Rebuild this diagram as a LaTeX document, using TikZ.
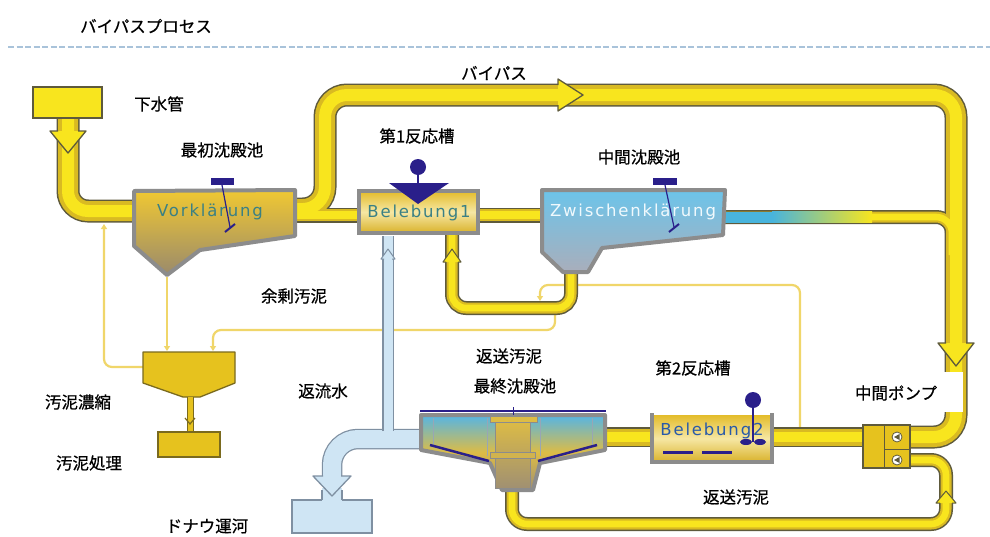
\documentclass[tikz,border=0pt]{standalone}
\usepackage{fontspec}
\newfontfamily\jp{Noto Sans CJK JP}[FakeBold=0.6]
\newfontfamily\tankfont{DejaVu Sans}[LetterSpace=11]
\usetikzlibrary{arrows.meta}

\definecolor{pipeedge}{HTML}{5E5A3C}
\definecolor{pipegold}{HTML}{D9BA22}
\definecolor{pipeyel}{HTML}{F8E51E}
\definecolor{tankgray}{HTML}{8C8C8C}
\definecolor{navyblue}{HTML}{2A1F8A}
\definecolor{tealtext}{HTML}{3A8084}
\definecolor{lbpipe}{HTML}{CFE5F4}
\definecolor{lbedge}{HTML}{7F90A2}
\definecolor{sludge}{HTML}{F0D66A}
\definecolor{thickfill}{HTML}{E6C21E}
\definecolor{thickedge}{HTML}{7A6A1E}
\definecolor{dashblue}{HTML}{A9C3DA}
\definecolor{zwblue}{HTML}{48B4DC}
\definecolor{vktop}{HTML}{F0C832}
\definecolor{vkbot}{HTML}{9A8A6C}
\definecolor{zwtop}{HTML}{6CC4EA}
\definecolor{zwbot}{HTML}{A9AEBB}
\definecolor{beltop}{HTML}{E3BC2A}
\definecolor{belmid}{HTML}{F6E7A4}
\definecolor{belbot}{HTML}{D9B22A}
\definecolor{fcblue}{HTML}{55B5E5}
\definecolor{fcgold}{HTML}{DDBC45}
\definecolor{fcbot}{HTML}{A09072}

% yellow pipe network, drawn once per layer (o = outline, g = gold body, h = highlight)
\newcommand\yellowpipes[1]{%
  \draw[pipe#1=20, rounded corners=20pt] (68,118) -- (68,211) -- (136,211);
  \draw[pipe#1=20, rounded corners=22pt] (292,209) -- (325,209) -- (325,95) -- (956,95) -- (956,437) -- (909,437);
  \draw[pipe#1=12] (292,215) -- (358,215);
  \draw[pipe#1=12] (478,215) -- (543,215);
  \draw[pipe#1=11, rounded corners=16pt] (724,217) -- (952,217) -- (952,255);
  \draw[pipe#1=17] (604,437) -- (653,437);
  \draw[pipe#1=17] (771,437) -- (864,437);
  \draw[pipe#1=11, rounded corners=14pt] (452,234) -- (452,308) -- (571,308) -- (571,270);
  \draw[pipe#1=11, rounded corners=15pt] (909,460) -- (946,460) -- (946,524) -- (512,524) -- (512,488);
}
\newcommand\bluepipes[1]{%
  \draw[lb#1=18, rounded corners=26pt] (422,439) -- (332,439) -- (332,478);
}

\begin{document}
\begin{tikzpicture}[x=1pt,y=-1pt,
  lbl/.style={font=\jp\fontsize{16.5}{18}\selectfont, text=black, inner sep=0pt},
  tanklbl/.style={font=\tankfont\fontsize{16.5}{18}\selectfont, inner sep=0pt},
  pipeo/.style={draw=pipeedge, line width={(#1+3)*1pt}},
  pipeg/.style={draw=pipegold, line width={#1*1pt}},
  pipeh/.style={draw=pipeyel, line width={#1*0.6pt}},
  lbo/.style={draw=lbedge, line width={(#1+2.5)*1pt}},
  lbf/.style={draw=lbpipe, line width={#1*1pt}},
  sludgeline/.style={draw=sludge, line width=2.2pt, rounded corners=8pt,
    -{Triangle[length=5pt,width=6pt]}},
  chevron/.style={fill=pipeyel, draw=pipeedge, line width=1.3pt, line join=round},
  tankwall/.style={draw=tankgray, line width=4pt, line join=round},
  navy/.style={draw=navyblue, line width=1.2pt},
]
\useasboundingbox (0,0) rectangle (990,536);
\fill[white] (0,0) rectangle (990,536);

% header
\node[lbl] (title) at (146,26) {バイパスプロセス};
\draw[dashblue, line width=1.6pt, dash pattern=on 6pt off 2.5pt] (8,47) -- (990,47);

% thin sludge lines
\draw[sludgeline] (167,277) -- (167,351);
\draw[sludgeline] (143,367) -- (104,367) -- (104,224);
\draw[sludgeline] (555,314) -- (555,330) -- (213,330) -- (213,351);
\draw[sludgeline] (800,432) -- (800,285) -- (540,285) -- (540,301);

% yellow pipes
\yellowpipes{o}
\yellowpipes{g}
\yellowpipes{h}
% colour change of the intermediate clarifier outlet
\fill[zwblue] (724,211.5) rectangle (772,222.5);
\shade[left color=zwblue, right color=pipeyel] (772,211.5) rectangle (872,222.5);

% light blue pipes
\bluepipes{o}
\bluepipes{f}
\draw[lbo=9] (388,431) -- (388,236);
\draw[lbf=9] (388,431) -- (388,236);

% Danube canal outfall
\draw[lbedge, fill=lbpipe, line width=1.5pt] (292,500) rectangle (372,533);
\fill[lbpipe] (322,488) rectangle (342,501);
\draw[lbedge, line width=1.5pt] (322,490) -- (322,500) (342,490) -- (342,500);
\draw[lbedge, fill=lbpipe, line width=1.3pt, line join=round]
  (323,476) -- (313,476) -- (332,496) -- (351,476) -- (341,476);

% flow chevrons
\draw[chevron] (58,131) -- (50,131) -- (68,153) -- (86,131) -- (78,131);
\draw[chevron] (558,85) -- (558,79) -- (583,95) -- (558,111) -- (558,105);
\draw[chevron] (946,343) -- (938,343) -- (956,366) -- (974,343) -- (966,343);
\draw[chevron, line width=1pt] (446,262) -- (443,262) -- (452,249) -- (461,262) -- (458,262);
\draw[chevron, line width=1pt] (940,503) -- (936,503) -- (946,491) -- (956,503) -- (952,503);
\draw[lbedge, fill=lbpipe, line width=1pt, line join=round]
  (384,259) -- (381,259) -- (388,249) -- (395,259) -- (392,259);

% sewer inlet
\draw[pipeedge, fill=pipeyel, line width=1.5pt] (33,87) rectangle (102,118);

% primary clarifier
\draw[tankwall, top color=vktop, bottom color=vkbot]
  (134,191) -- (295,190) -- (295,236) -- (200,250) -- (167,275) -- (134,246) -- cycle;
\node[tanklbl, text=tealtext] (vk) at (210,212) {Vorklärung};
\fill[navyblue] (211,178) rectangle (234,185);
\draw[navy] (222,185) -- (230,227);
\draw[navyblue, line width=2pt] (225,232) -- (235,224);

% first aeration tank
\node[draw=tankgray, line width=4pt, minimum width=119pt, minimum height=42pt, inner sep=0pt,
  top color=beltop, bottom color=belbot, middle color=belmid] (bel1) at (418.5,212) {};
\node[tanklbl, text=tealtext] (bel1lbl) at (419,213) {Belebung1};
\fill[navyblue] (418,167) circle (8pt);
\draw[navy] (418,175) -- (418,184);
\fill[navyblue] (389,183) -- (449,183) -- (418,204) -- cycle;

% intermediate clarifier
\draw[tankwall, top color=zwtop, bottom color=zwbot]
  (542,190) -- (725,190) -- (723,235) -- (602,248) -- (588,272) -- (563,272) -- (542,252) -- cycle;
\node[tanklbl, text=white!90!zwtop] (zw) at (633,212) {Zwischenklärung};
\fill[navyblue] (653,178) rectangle (677,185);
\draw[navy] (665,185) -- (674,227);
\draw[navyblue, line width=2pt] (669,232) -- (679,224);

% sludge thickener and sludge treatment
\draw[thickedge, fill=thickfill, line width=1.3pt, line join=round]
  (143,352) -- (235,352) -- (235,383) -- (200,397) -- (183,397) -- (143,383) -- cycle;
\fill[thickfill] (187,397) rectangle (193,432);
\draw[thickedge, line width=1pt] (187,397) -- (187,432) (193,397) -- (193,432);
\draw[thickedge, line width=1.2pt] (185,418) -- (190,424) -- (195,418);
\draw[thickedge, fill=thickfill, line width=1.3pt] (158,432) rectangle (220,457);

% final clarifier
\draw[tankwall, top color=fcblue, bottom color=fcbot, middle color=fcgold]
  (421,415) -- (605,415) -- (605,450) -- (540,463) -- (533,490) -- (502,490) -- (490,463) -- (421,450) -- cycle;
\draw[lbedge!80, line width=0.8pt] (433,418) -- (433,447) (487,418) -- (487,456) (540,418) -- (540,456) (592,418) -- (592,447);
\draw[tankgray, line width=1pt, top color=fcgold, bottom color=fcbot] (495,420) rectangle (530,488);
\draw[tankgray, line width=1pt, fill=fcgold] (490,416) rectangle (537,422);
\draw[tankgray, line width=1pt, fill=fcgold!80!fcbot] (490,452) rectangle (535,458);
\draw[navyblue, line width=2.5pt] (430,445) -- (489,461) (538,461) -- (597,445);
\draw[navyblue, line width=2.5pt] (420,411) -- (606,411);
\draw[navyblue, line width=1pt] (513,407) -- (513,415);

% second aeration tank
\node[minimum width=119pt, minimum height=47pt, inner sep=0pt,
  top color=beltop, bottom color=belbot, middle color=belmid] (bel2) at (712,438.5) {};
\draw[tankgray, line width=4pt] (652,413) -- (652,462) -- (772,462) -- (772,413);
\node[tanklbl, text=tealtext!70!blue] (bel2lbl) at (712,431) {Belebung2};
\draw[navyblue, line width=3pt] (663,452) -- (693,452) (702,452) -- (732,452);
\fill[navyblue] (753,400) circle (8pt);
\draw[navy] (753,408) -- (753,442);
\fill[navyblue] (746,442) ellipse (6pt and 3pt) (760,442) ellipse (6pt and 3pt);

% intermediate pump
\node[draw=pipeedge, fill=thickfill, line width=1.2pt, minimum width=47pt, minimum height=43pt,
  inner sep=0pt] (pump) at (886.5,446.5) {};
\draw[pipeedge, line width=1pt] (884,425) -- (884,468) (884,449) -- (910,449);
\draw[pipeedge, fill=white, line width=0.8pt] (897,437) circle (5pt) (897,460) circle (5pt);
\fill[pipeedge] (894,437) -- (899.5,434) -- (899.5,440) -- cycle;
\fill[pipeedge] (894,460) -- (899.5,457) -- (899.5,463) -- cycle;

% labels
\node[lbl] (sewer) at (159,104) {下水管};
\node[lbl] (prim) at (222,150) {最初沈殿池};
\node[lbl] (bypass) at (494,73) {バイパス};
\node[lbl] (react1) at (417,136) {第1反応槽};
\node[lbl] (inter) at (639,157) {中間沈殿池};
\node[lbl] (excess) at (294,296) {余剰汚泥};
\node[lbl] (ret1) at (509,356) {返送汚泥};
\node[lbl] (final) at (515,386) {最終沈殿池};
\node[lbl] (react2) at (693,368) {第2反応槽};
\node[lbl] (backflow) at (323,391) {返流水};
\node[lbl] (thicken) at (78,402) {汚泥濃縮};
\node[lbl] (treat) at (89,463) {汚泥処理};
\node[lbl] (canal) at (207,526) {ドナウ運河};
\fill[white] (803,372) rectangle (963,412);
\node[lbl] (pumplbl) at (896,393) {中間ポンプ};
\node[lbl] (ret2) at (736,497) {返送汚泥};
\end{tikzpicture}
\end{document}
